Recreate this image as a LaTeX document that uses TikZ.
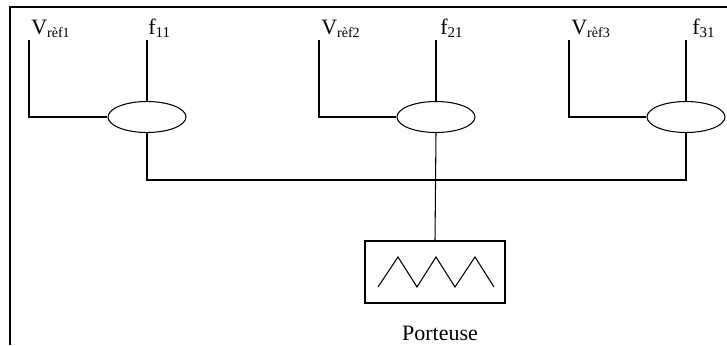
\documentclass[tikz,border=0pt]{standalone}
\usepackage{fontspec}
\setmainfont{Liberation Serif}
\usepackage{tikz}
\usetikzlibrary{shapes.geometric, positioning}
\newcommand{\vrefsub}[1]{V\raisebox{-0.35ex}{\fontsize{8}{9}\selectfont rèf#1}}

\begin{document}
\begin{tikzpicture}[x=0.02cm, y=-0.02cm, line width=0.6pt,
    mixer/.style={draw, ellipse, minimum width=1.56cm, minimum height=0.62cm, inner sep=0pt},
    lbl/.style={anchor=south west, inner sep=1pt, font=\fontsize{12.5}{14}\selectfont}]
    \useasboundingbox (0,0) rectangle (727,345);
    \draw[line width=1.2pt] (10,345) -- (10,7) -- (727,7);

    \node[mixer] (mix1) at (147,117) {};
    \node[mixer] (mix2) at (436,117) {};
    \node[mixer] (mix3) at (686,117) {};

    \node[lbl] (vref1) at (29,40) {\vrefsub{1}};
    \node[lbl] (vref2) at (319,40) {\vrefsub{2}};
    \node[lbl] (vref3) at (569,40) {\vrefsub{3}};
    \node[lbl] (f11) at (146,40) {f\raisebox{-0.35ex}{\fontsize{8.5}{9}\selectfont 11}};
    \node[lbl] (f21) at (438,40) {f\raisebox{-0.35ex}{\fontsize{8.5}{9}\selectfont 21}};
    \node[lbl] (f31) at (690,40) {f\raisebox{-0.35ex}{\fontsize{8.5}{9}\selectfont 31}};

    \foreach \i/\f in {1/f11, 2/f21, 3/f31} {
      \draw (vref\i.south west) |- (mix\i.west);
      \draw (mix\i.north) -- (mix\i.north |- \f.south);
    }

    \node[draw, minimum width=2.8cm, minimum height=1.24cm] (carrier) at (435,272) {};
    \draw (carrier.center) ++(-57,15) -- ++(20,-30) -- ++(19,30) -- ++(19,-30)
      -- ++(19,30) -- ++(20,-30) -- ++(19,30);
    \node[font=\fontsize{12.5}{14}\selectfont] (porteuse) at (440,333) {Porteuse};

    \coordinate (bus) at (436,180);
    \draw (mix1.south) |- (bus) -| (mix3.south);
    \draw (mix2.south) -- (carrier.north);
\end{tikzpicture}
\end{document}
